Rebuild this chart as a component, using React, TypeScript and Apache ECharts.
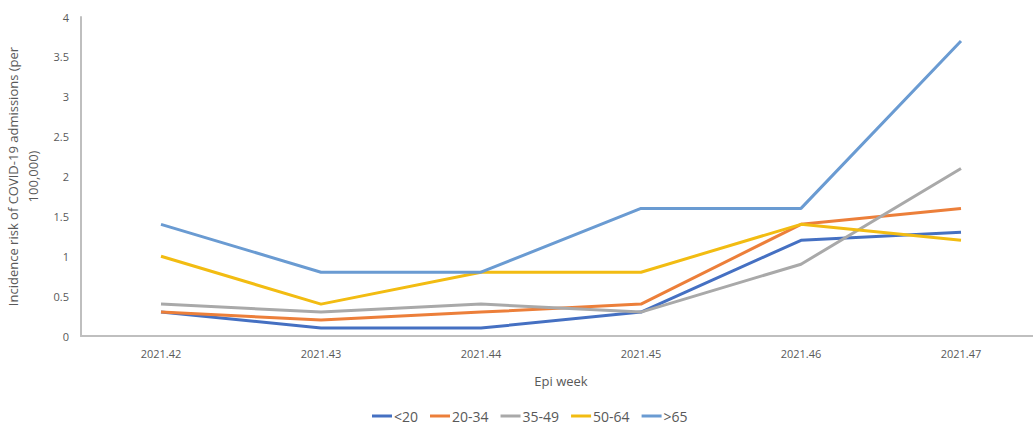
import { useEffect, useRef } from 'react';
import * as echarts from 'echarts';

const weeks = ['2021.42', '2021.43', '2021.44', '2021.45', '2021.46', '2021.47'];
const under20 = [0.3, 0.1, 0.1, 0.3, 1.2, 1.3];
const age20to34 = [0.3, 0.2, 0.3, 0.4, 1.4, 1.6];
const age35to49 = [0.4, 0.3, 0.4, 0.3, 0.9, 2.1];
const age50to64 = [1.0, 0.4, 0.8, 0.8, 1.4, 1.2];
const over65 = [1.4, 0.8, 0.8, 1.6, 1.6, 3.7];

const seriesDefs = [
  { name: '<20', data: under20, color: '#4570c2' },
  { name: '20-34', data: age20to34, color: '#ec7f3a' },
  { name: '35-49', data: age35to49, color: '#a9a9a9' },
  { name: '50-64', data: age50to64, color: '#f2bc12' },
  { name: '>65', data: over65, color: '#6a9bd2' },
];

const FONT = '"Open Sans", "Noto Sans", sans-serif';

export default function App() {
  const chartRef = useRef<HTMLDivElement>(null);

  useEffect(() => {
    if (!chartRef.current) return;
    const chart = echarts.init(chartRef.current, undefined, { renderer: 'svg' });

    chart.setOption({
      animation: false,
      backgroundColor: '#ffffff',
      textStyle: { fontFamily: FONT },
      grid: { left: 81, right: -8, top: 17, bottom: 89, outerBoundsMode: 'none' },
      legend: {
        bottom: 2,
        left: 372,
        padding: 0,
        itemWidth: 20,
        itemHeight: 3,
        itemGap: 12,
        icon: 'rect',
        textStyle: { color: '#595959', fontSize: 14, fontFamily: FONT, padding: [0, 0, 0, -3] },
        data: seriesDefs.map((s) => s.name),
      },
      xAxis: {
        type: 'category',
        data: weeks,
        boundaryGap: true,
        name: 'Epi week',
        nameLocation: 'middle',
        nameGap: 38,
        nameTextStyle: { color: '#595959', fontSize: 13, fontFamily: FONT },
        axisLine: { lineStyle: { color: '#bfbfbf', width: 2 } },
        axisTick: { show: false },
        axisLabel: { color: '#595959', fontSize: 11, margin: 12 },
        splitLine: { show: false },
      },
      yAxis: {
        type: 'value',
        min: 0,
        max: 4,
        interval: 0.5,
        name: 'Incidence risk of COVID-19 admissions (per\n100,000)',
        nameLocation: 'middle',
        nameGap: 31,
        nameTextStyle: { color: '#595959', fontSize: 13, fontFamily: FONT, lineHeight: 20 },
        axisLine: { show: true, lineStyle: { color: '#bfbfbf', width: 2 } },
        axisTick: { show: false },
        axisLabel: { color: '#595959', fontSize: 11, margin: 12 },
        splitLine: { show: false },
      },
      series: seriesDefs.map((s) => ({
        name: s.name,
        type: 'line',
        data: s.data,
        symbol: 'none',
        lineStyle: { color: s.color, width: 3 },
        itemStyle: { color: s.color },
      })),
    });

    return () => {
      chart.dispose();
    };
  }, []);

  return (
    <div
      ref={chartRef}
      style={{ position: 'absolute', left: 0, top: 0, width: '1033px', height: '425px' }}
    />
  );
}
